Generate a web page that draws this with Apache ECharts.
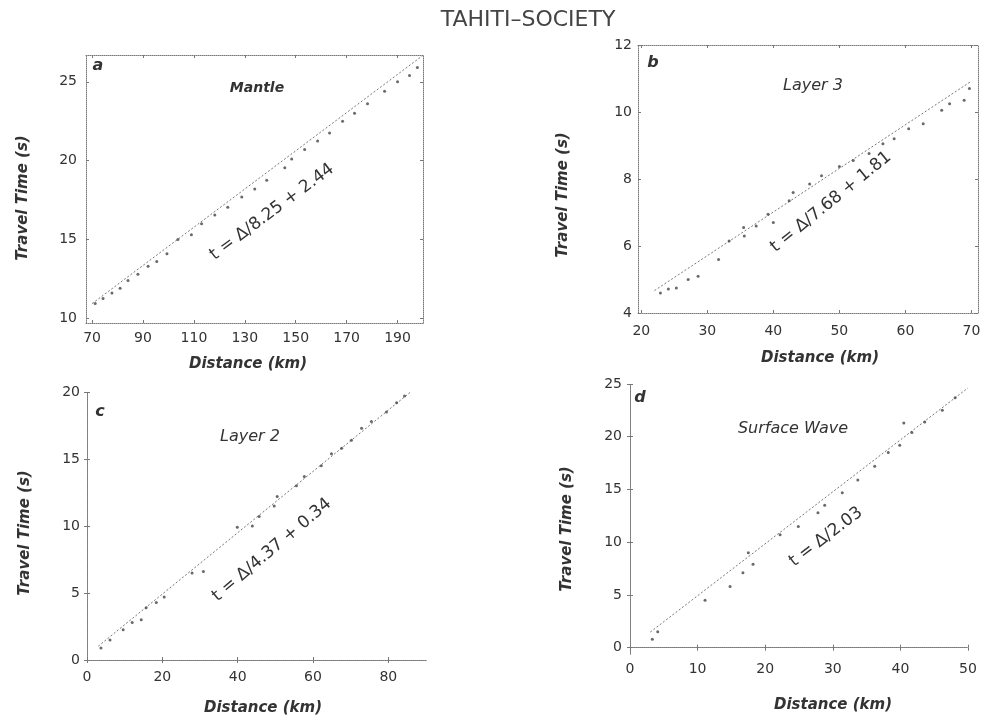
<!DOCTYPE html>
<html>
<head>
<meta charset="utf-8">
<script src="https://cdn.jsdelivr.net/npm/echarts@6/dist/echarts.min.js"></script>
<style>html,body{margin:0;padding:0;background:#fff}#c{width:1006px;height:719px}</style>
</head>
<body>
<div id="c"></div>
<script>
// ---- Data ----
const mantlePts = [[71.2,10.94],[74.3,11.25],[77.8,11.6],[81,11.9],[84.1,12.4],[88,12.8],[92,13.3],[95.4,13.6],[99.4,14.1],[103.7,15.0],[109,15.3],[113,16.0],[118.2,16.55],[123.3,17.05],[128.8,17.7],[133.9,18.2],[138.6,18.75],[145.7,19.55],[148.4,20.1],[153.5,20.7],[158.6,21.25],[163.3,21.75],[168.4,22.5],[173.1,23.0],[178.2,23.6],[184.9,24.4],[190,25.0],[194.7,25.4],[197.8,25.9]];
const layer3Pts = [[22.9,4.6],[24.1,4.72],[25.3,4.75],[27.1,5.0],[28.6,5.1],[31.7,5.6],[33.3,6.15],[35.6,6.3],[35.5,6.55],[37.4,6.6],[39.2,6.95],[40,6.7],[42.4,7.35],[43,7.6],[45.5,7.85],[47.3,8.1],[50,8.37],[52.1,8.55],[54.5,8.76],[56.6,9.05],[58.3,9.2],[60.5,9.5],[62.7,9.65],[65.5,10.05],[66.7,10.25],[68.9,10.35],[69.7,10.7]];
const layer2Pts = [[3.7,0.9],[6.1,1.5],[9.6,2.25],[12,2.8],[14.4,3.0],[15.7,3.9],[18.4,4.3],[20.5,4.7],[27.9,6.5],[30.9,6.6],[39.9,9.9],[43.9,10.0],[45.7,10.7],[49.7,11.5],[50.5,12.2],[55.6,13.0],[57.7,13.7],[62.2,14.5],[64.9,15.4],[67.6,15.8],[70.2,16.4],[72.9,17.3],[75.5,17.8],[79.5,18.5],[82.2,19.2],[84.3,19.7]];
const surfacePts = [[3.3,0.8],[4.1,1.5],[11.1,4.5],[14.8,5.8],[16.7,7.1],[17.5,9.0],[18.2,7.9],[22.2,10.7],[24.9,11.5],[27.8,12.8],[28.8,13.5],[31.4,14.7],[33.7,15.9],[36.2,17.2],[38.2,18.5],[39.9,19.2],[40.5,21.3],[41.7,20.4],[43.6,21.4],[46.2,22.5],[48.1,23.7]];
// fit lines (end points of the quoted equations)
const mantleFit = [[70,10.93],[200,26.68]];
const layer3Fit = [[22,4.67],[70,10.92]];
const layer2Fit = [[3,1.03],[85.9,20.0]];
const surfaceFit = [[3,1.48],[50,24.63]];
// tick labels
const xTicksA = [70,90,110,130,150,170,190], yTicksA = [10,15,20,25];
const xTicksB = [20,30,40,50,60,70], yTicksB = [4,6,8,10,12];
const xTicksC = [0,20,40,60,80], yTicksC = [0,5,10,15,20];
const xTicksD = [0,10,20,30,40,50], yTicksD = [0,5,10,15,20,25];
const titles = ['Mantle','Layer 3','Layer 2','Surface Wave'];
const letters = ['a','b','c','d'];
const equations = ['t = Δ/8.25 + 2.44','t = Δ/7.68 + 1.81','t = Δ/4.37 + 0.34','t = Δ/2.03'];

// ---- Layout ----
const panels = [
  {pts:mantlePts, fit:mantleFit, xt:xTicksA, yt:yTicksA, grid:{left:86,top:55,width:337,height:268}, xr:[67.6,200], yr:[9.7,26.7], xm:8, ym:9,
   letter:[98,66], title:[257,88], eq:[272,212,0.64], xname:[248,364], yname:[23,198]},
  {pts:layer3Pts, fit:layer3Fit, xt:xTicksB, yt:yTicksB, grid:{left:638,top:45,width:340,height:268}, xr:[19.5,71], yr:[4,12], xm:11, ym:6,
   letter:[653,63], title:[813,86], eq:[831,202,0.68], xname:[820,358], yname:[563,195]},
  {pts:layer2Pts, fit:layer2Fit, xt:xTicksC, yt:yTicksC, grid:{left:87,top:392,width:339,height:268}, xr:[0,90], yr:[0,20], xm:10, ym:7,
   letter:[100,412], title:[250,437], eq:[272,550,0.70], xname:[263,708], yname:[25,533]},
  {pts:surfacePts, fit:surfaceFit, xt:xTicksD, yt:yTicksD, grid:{left:628,top:384,width:340,height:270}, xr:[-0.3,50], yr:[-0.6,25], xm:8, ym:6,
   letter:[640,398], title:[793,429], eq:[826,537,0.65], xname:[833,705], yname:[567,529]}
];

const FONT = 'DejaVu Sans';
const frameLine = {show:true, lineStyle:{color:'#7a7a7a', width:1, type:'dotted'}};
const grids=[], xAxes=[], yAxes=[], series=[], graphics=[];
panels.forEach((p,i)=>{
  grids.push(Object.assign({containLabel:false}, p.grid));
  const tickIn = (vals)=>({show:true, inside:true, length:3, customValues:vals, lineStyle:{color:'#777'}});
  xAxes.push({type:'value', gridIndex:i, min:p.xr[0], max:p.xr[1], position:'bottom', splitLine:{show:false},
    axisLine:frameLine, axisTick:tickIn(p.xt),
    axisLabel:{customValues:p.xt, margin:p.xm, fontFamily:FONT, fontSize:14, color:'#333'}});
  xAxes.push({type:'value', gridIndex:i, min:p.xr[0], max:p.xr[1], position:'top', splitLine:{show:false},
    axisLine:frameLine, axisTick:tickIn(p.xt), axisLabel:{show:false}});
  yAxes.push({type:'value', gridIndex:i, min:p.yr[0], max:p.yr[1], position:'left', splitLine:{show:false},
    axisLine:frameLine, axisTick:tickIn(p.yt),
    axisLabel:{customValues:p.yt, margin:p.ym, fontFamily:FONT, fontSize:14, color:'#333'}});
  yAxes.push({type:'value', gridIndex:i, min:p.yr[0], max:p.yr[1], position:'right', splitLine:{show:false},
    axisLine:frameLine, axisTick:tickIn(p.yt), axisLabel:{show:false}});
  series.push({type:'line', xAxisIndex:2*i, yAxisIndex:2*i, data:p.fit, symbol:'none', silent:true,
    lineStyle:{color:'#777', width:1, type:[2,2]}, z:1});
  series.push({type:'scatter', xAxisIndex:2*i, yAxisIndex:2*i, data:p.pts, symbol:'circle', symbolSize:3,
    itemStyle:{color:'#444'}, silent:true, z:2});
  graphics.push({type:'text', x:p.letter[0], y:p.letter[1], style:{text:letters[i], font:'italic bold 16px '+FONT, fill:'#333', align:'center', verticalAlign:'middle'}});
  graphics.push({type:'text', x:p.title[0], y:p.title[1], style:{text:titles[i], font:(i===0?'italic bold 14px ':'italic 16px ')+FONT, fill:'#333', align:'center', verticalAlign:'middle'}});
  graphics.push({type:'text', x:p.eq[0], y:p.eq[1], rotation:p.eq[2], originX:0, originY:0,
    style:{text:equations[i], font:'17px '+FONT, fill:'#333', align:'center', verticalAlign:'middle'}});
  graphics.push({type:'text', x:p.xname[0], y:p.xname[1], style:{text:'Distance (km)', font:'italic bold 15px '+FONT, fill:'#333', align:'center', verticalAlign:'middle'}});
  graphics.push({type:'text', x:p.yname[0], y:p.yname[1], rotation:Math.PI/2,
    style:{text:'Travel Time (s)', font:'italic bold 15px '+FONT, fill:'#333', align:'center', verticalAlign:'middle'}});
});
graphics.push({type:'text', x:528, y:20, style:{text:'TAHITI–SOCIETY', font:'22px '+FONT, fill:'#444', align:'center', verticalAlign:'middle'}});

const chart = echarts.init(document.getElementById('c'), null, {renderer:'canvas'});
chart.setOption({
  backgroundColor:'#fff', animation:false,
  grid:grids, xAxis:xAxes, yAxis:yAxes, series:series, graphic:graphics
});
</script>
</body>
</html>
